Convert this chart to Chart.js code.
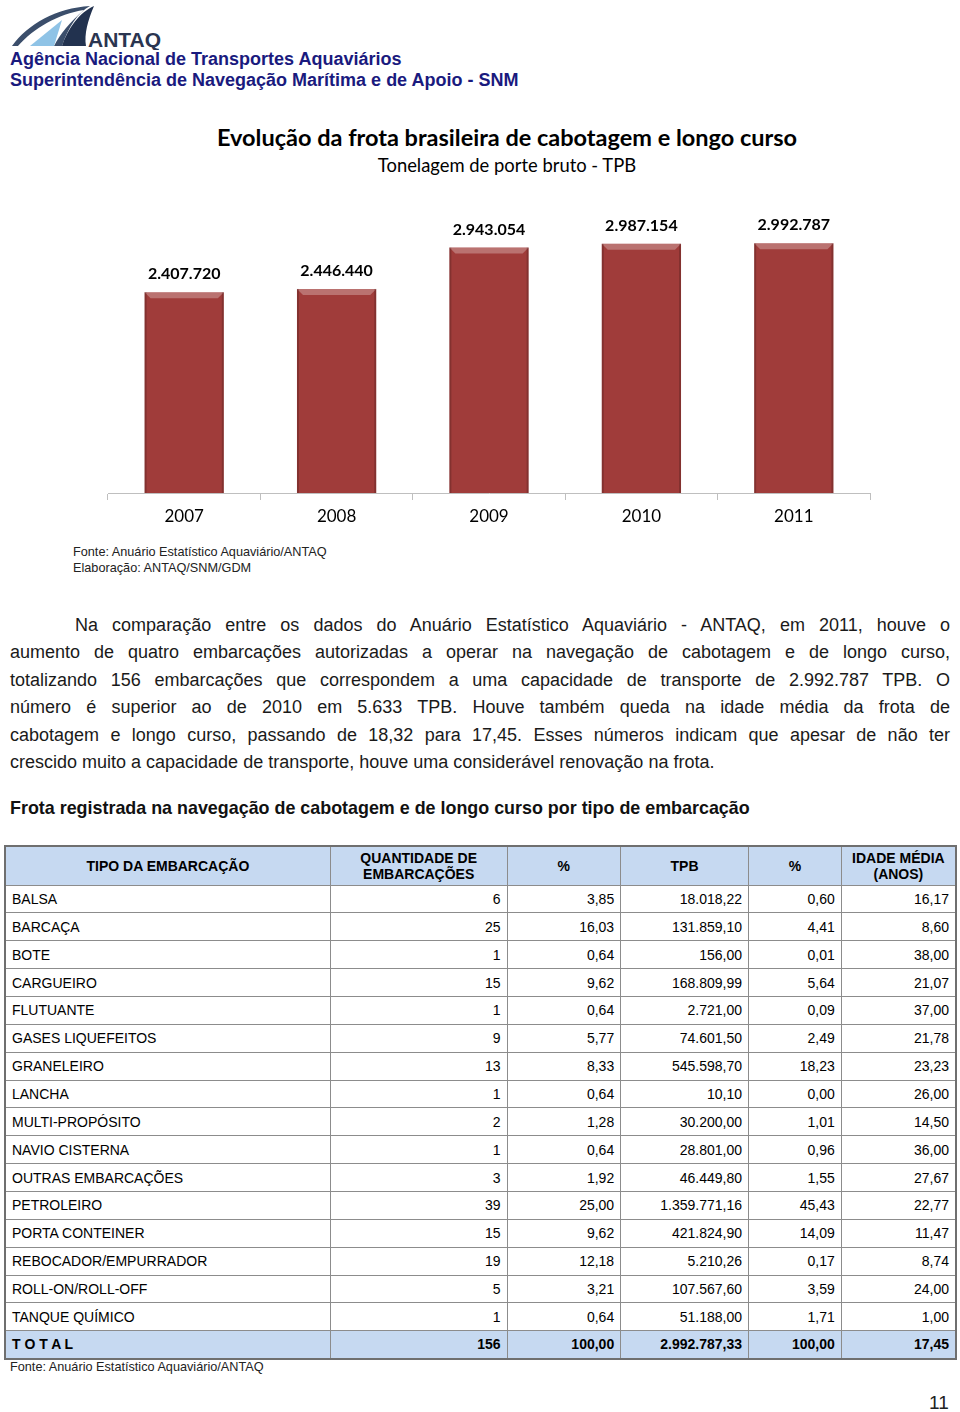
<!DOCTYPE html>
<html>
<head>
<meta charset="utf-8">
<script src="https://cdn.jsdelivr.net/npm/chart.js@4.4.1/dist/chart.umd.min.js"></script>
<style>
  body { margin: 0; background: #fff; width: 960px; height: 1412px; position: relative; overflow: hidden; font-family: "Liberation Sans", Arial, sans-serif; }
  .abs { position: absolute; }
  .org { left: 10px; color: #1a1a7e; font-weight: bold; font-size: 18px; }
  .title { left: 0; width: 1014px; text-align: center; font-family: Lato, sans-serif; color: #000; }
  .src { left: 73px; font-size: 12.7px; color: #222; }
  .para { left: 10px; width: 940px; font-size: 18px; color: #1a1a1a; }
  .para div { height: 27.4px; line-height: 27.4px; text-align: justify; text-align-last: justify; white-space: nowrap; }
  .para div.last { text-align-last: left; }
  table { border-collapse: collapse; font-size: 14px; color: #000; }
  td, th { border: 1px solid #8c8c8c; padding: 0 6px; height: 27.87px; box-sizing: border-box; }
  th { background: #c6d9f1; font-weight: bold; font-size: 14px; line-height: 16px; height: 39px; text-align: center; }
  td.n { text-align: right; }
  tr.tot td { background: #c6d9f1; font-weight: bold; }
</style>
</head>
<body>
<svg class="abs" style="left:8px;top:2px" width="165" height="48" viewBox="0 0 165 48">
  <path d="M4 44 C20 22, 48 6, 82 4 C70 10, 60 26, 54 44 Z" fill="#3b4e6b"/>
  <path d="M10 44 C26 26, 50 12, 76 8 C62 20, 52 32, 46 44 Z" fill="#ffffff"/>
  <path d="M22 44 L54 18 L46 44 Z" fill="#8fc3e6"/>
  <path d="M54 44 C60 26, 72 10, 86 4 C80 18, 76 32, 78 44 Z" fill="#22324f"/>
  <text x="80" y="45" font-family="Liberation Sans, Arial" font-weight="bold" font-size="21" fill="#2a3550">ANTAQ</text>
</svg>
<div class="abs org" style="top:49px">Agência Nacional de Transportes Aquaviários</div>
<div class="abs org" style="top:70px">Superintendência de Navegação Marítima e de Apoio - SNM</div>

<div class="abs title" style="top:123px;font-size:23.5px;font-weight:bold">Evolução da frota brasileira de cabotagem e longo curso</div>
<div class="abs title" style="top:154px;font-size:18.4px">Tonelagem de porte bruto - TPB</div>

<div class="abs" style="left:60px;top:195px;width:860px;height:340px"><canvas id="barChart"></canvas></div>

<div class="abs src" style="top:545px">Fonte: Anuário Estatístico Aquaviário/ANTAQ</div>
<div class="abs src" style="top:561px">Elaboração: ANTAQ/SNM/GDM</div>

<div class="abs para" style="top:612px">
  <div style="padding-left:65px">Na comparação entre os dados do Anuário Estatístico Aquaviário - ANTAQ, em 2011, houve o</div>
  <div>aumento de quatro embarcações autorizadas a operar na navegação de cabotagem e de longo curso,</div>
  <div>totalizando 156 embarcações que correspondem a uma capacidade de transporte de 2.992.787 TPB. O</div>
  <div>número é superior ao de 2010 em 5.633 TPB. Houve também queda na idade média da frota de</div>
  <div>cabotagem e longo curso, passando de 18,32 para 17,45. Esses números indicam que apesar de não ter</div>
  <div class="last">crescido muito a capacidade de transporte, houve uma considerável renovação na frota.</div>
</div>

<div class="abs" style="left:10px;top:798px;font-size:17.9px;font-weight:bold;color:#111">Frota registrada na navegação de cabotagem e de longo curso por tipo de embarcação</div>

<table class="abs" id="tbl" style="left:4px;top:845px;width:953px;border:2px solid #6f6f6f"></table>
<div class="abs src" style="left:10px;top:1360px">Fonte: Anuário Estatístico Aquaviário/ANTAQ</div>
<div class="abs" style="left:929px;top:1392px;font-size:19px;color:#222">11</div>

<script>
// chart data
var years = ['2007', '2008', '2009', '2010', '2011'];
var tpb = [2407720, 2446440, 2943054, 2987154, 2992787];

// table data
var headers = ['TIPO DA EMBARCAÇÃO', 'QUANTIDADE DE<br>EMBARCAÇÕES', '%', 'TPB', '%', 'IDADE MÉDIA<br>(ANOS)'];
var tipos = ['BALSA', 'BARCAÇA', 'BOTE', 'CARGUEIRO', 'FLUTUANTE', 'GASES LIQUEFEITOS', 'GRANELEIRO', 'LANCHA',
  'MULTI-PROPÓSITO', 'NAVIO CISTERNA', 'OUTRAS EMBARCAÇÕES', 'PETROLEIRO', 'PORTA CONTEINER',
  'REBOCADOR/EMPURRADOR', 'ROLL-ON/ROLL-OFF', 'TANQUE QUÍMICO'];
var qtd = ['6', '25', '1', '15', '1', '9', '13', '1', '2', '1', '3', '39', '15', '19', '5', '1'];
var qtdPct = ['3,85', '16,03', '0,64', '9,62', '0,64', '5,77', '8,33', '0,64', '1,28', '0,64', '1,92', '25,00', '9,62', '12,18', '3,21', '0,64'];
var tpbVal = ['18.018,22', '131.859,10', '156,00', '168.809,99', '2.721,00', '74.601,50', '545.598,70', '10,10',
  '30.200,00', '28.801,00', '46.449,80', '1.359.771,16', '421.824,90', '5.210,26', '107.567,60', '51.188,00'];
var tpbPct = ['0,60', '4,41', '0,01', '5,64', '0,09', '2,49', '18,23', '0,00', '1,01', '0,96', '1,55', '45,43', '14,09', '0,17', '3,59', '1,71'];
var idade = ['16,17', '8,60', '38,00', '21,07', '37,00', '21,78', '23,23', '26,00', '14,50', '36,00', '27,67', '22,77', '11,47', '8,74', '24,00', '1,00'];
var total = ['T O T A L', '156', '100,00', '2.992.787,33', '100,00', '17,45'];

var widths = [326, 177, 114, 128, 93, 115];
var html = '<tr>';
for (var h = 0; h < headers.length; h++) {
  html += '<th style="width:' + widths[h] + 'px">' + headers[h] + '</th>';
}
html += '</tr>';
for (var i = 0; i < tipos.length; i++) {
  html += '<tr><td>' + tipos[i] + '</td><td class="n">' + qtd[i] + '</td><td class="n">' + qtdPct[i] +
    '</td><td class="n">' + tpbVal[i] + '</td><td class="n">' + tpbPct[i] + '</td><td class="n">' + idade[i] + '</td></tr>';
}
html += '<tr class="tot"><td>' + total[0] + '</td>';
for (var t = 1; t < total.length; t++) html += '<td class="n">' + total[t] + '</td>';
html += '</tr>';
document.getElementById('tbl').innerHTML = html;

// value labels + bevel on bars
var barExtras = {
  id: 'barExtras',
  afterDatasetsDraw: function(chart) {
    var c = chart.ctx;
    var meta = chart.getDatasetMeta(0);
    c.save();
    meta.data.forEach(function(bar, i) {
      var l = bar.x - bar.width / 2, r = bar.x + bar.width / 2;
      c.fillStyle = 'rgba(255,255,255,0.28)';
      c.beginPath();
      c.moveTo(l, bar.y); c.lineTo(r, bar.y); c.lineTo(r - 6, bar.y + 6); c.lineTo(l + 6, bar.y + 6);
      c.closePath(); c.fill();
      c.fillStyle = 'rgba(0,0,0,0.18)';
      c.fillRect(l, bar.y, 2, bar.base - bar.y);
      c.fillRect(r - 2, bar.y, 2, bar.base - bar.y);
      c.fillStyle = '#000';
      c.font = 'bold 16px Lato, sans-serif';
      c.textAlign = 'center';
      c.textBaseline = 'bottom';
      c.fillText(tpb[i].toLocaleString('pt-BR'), bar.x, bar.y - 10);
    });
    c.restore();
  }
};

var ctx = document.getElementById('barChart').getContext('2d');
var myChart = new Chart(ctx, {
  type: 'bar',
  data: {
    labels: years,
    datasets: [{
      label: 'TPB',
      data: tpb,
      backgroundColor: '#a03c3a',
      borderWidth: 0,
      categoryPercentage: 1,
      barPercentage: 0.52
    }]
  },
  options: {
    responsive: true,
    maintainAspectRatio: false,
    animation: false,
    layout: { padding: { left: 48, right: 50, top: 6, bottom: 0 } },
    plugins: { legend: { display: false }, tooltip: { enabled: false } },
    scales: {
      y: { display: false, min: 0, max: 3500000 },
      x: {
        afterFit: function(scale) { scale.height = 42; },
        border: { color: '#bfbfbf', width: 1 },
        grid: { offset: true, drawOnChartArea: false, drawTicks: true, tickLength: 7, color: '#bfbfbf' },
        ticks: { color: '#000', padding: 6, font: { family: 'Lato', size: 17 } }
      }
    }
  },
  plugins: [barExtras]
});
</script>
</body>
</html>
